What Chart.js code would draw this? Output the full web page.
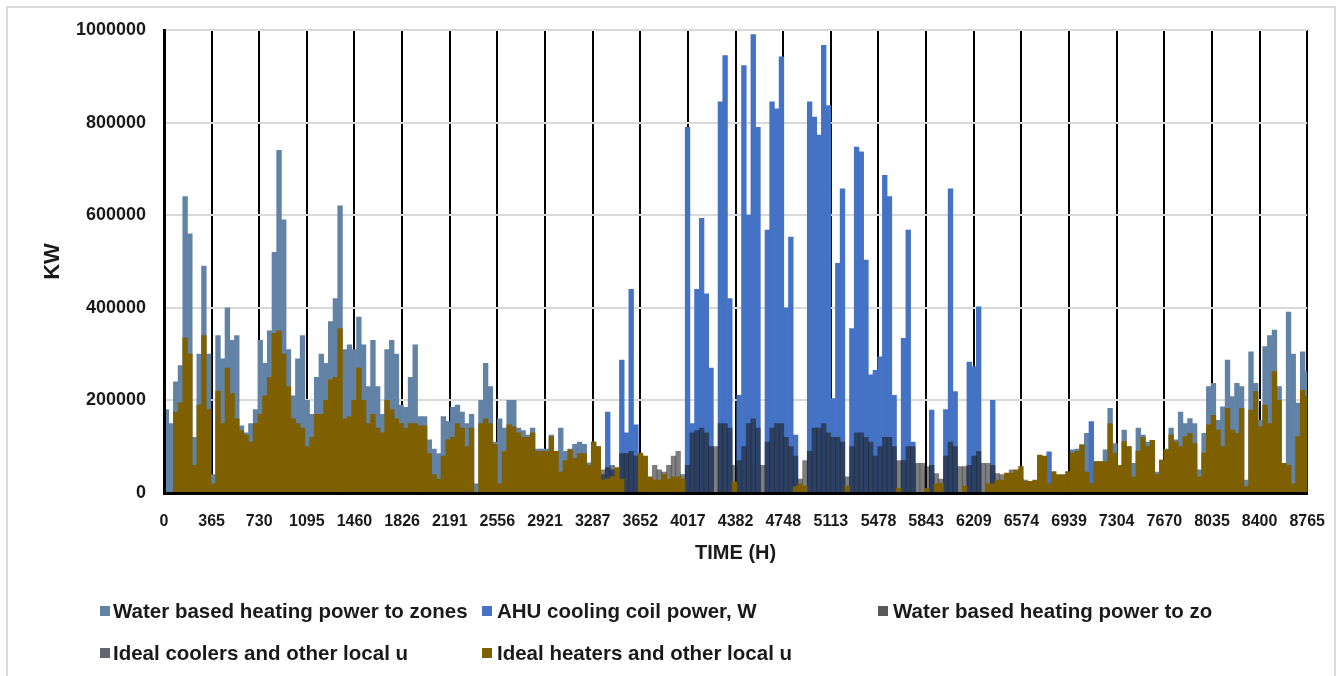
<!DOCTYPE html>
<html>
<head>
<meta charset="utf-8">
<script src="https://cdn.jsdelivr.net/npm/chart.js@4.4.1/dist/chart.umd.min.js"></script>
<style>
  html, body { margin: 0; padding: 0; background: #fff; }
  body { width: 1344px; height: 676px; position: relative; overflow: hidden; }
  #frame { position: absolute; left: 6px; top: 6px; width: 1330px; height: 700px; border: 2px solid #d9d9d9; box-sizing: border-box; }
  #chart { position: absolute; left: 0; top: 0; }
  .legend-item { position: absolute; height: 24px; display: flex; align-items: center; white-space: nowrap;
    font-family: 'Liberation Sans', Arial, sans-serif; font-weight: bold; font-size: 20.5px; color: #1a1a1a; }
  .swatch { position: absolute; width: 10px; height: 10px; }
</style>
</head>
<body>
<div id="frame"></div>
<canvas id="chart" width="1344" height="676"></canvas>
<div id="legend"></div>
<script>
// one bar per 36 hours of the year
const hourStep = 36;
const tickHours = [0, 365, 730, 1095, 1460, 1826, 2191, 2556, 2921, 3287, 3652, 4017, 4382,
  4748, 5113, 5478, 5843, 6209, 6574, 6939, 7304, 7670, 8035, 8400, 8765];

const waterHeatingZones = [
  180000, 150000, 240000, 275000, 640000, 560000, 120000, 300000, 490000, 300000,
  40000, 340000, 290000, 400000, 330000, 340000, 145000, 130000, 150000, 180000,
  330000, 280000, 350000, 520000, 740000, 590000, 310000, 210000, 290000, 340000,
  200000, 170000, 250000, 300000, 280000, 370000, 420000, 620000, 310000, 320000,
  310000, 380000, 320000, 230000, 330000, 230000, 170000, 310000, 330000, 300000,
  190000, 185000, 250000, 320000, 165000, 165000, 115000, 95000, 85000, 165000,
  155000, 185000, 190000, 175000, 150000, 170000, 20000, 200000, 280000, 230000,
  110000, 160000, 140000, 200000, 200000, 140000, 135000, 125000, 140000, 95000,
  95000, 95000, 125000, 90000, 140000, 90000, 95000, 105000, 110000, 105000,
  65000, 110000, 100000, 40000, 0, 0, 0, 0, 0, 0,
  0, 0, 0, 0, 0, 0, 0, 0, 0, 0,
  0, 0, 0, 0, 0, 0, 0, 0, 0, 0,
  0, 0, 0, 0, 0, 0, 0, 0, 0, 0,
  0, 0, 0, 0, 0, 0, 0, 0, 0, 0,
  0, 0, 0, 0, 0, 0, 0, 0, 0, 0,
  0, 0, 0, 0, 0, 0, 0, 0, 0, 0,
  0, 0, 0, 0, 0, 0, 0, 0, 0, 0,
  0, 0, 0, 0, 0, 0, 0, 0, 0, 0,
  0, 0, 0, 0, 0, 0, 0, 0, 0, 0,
  0, 0, 0, 93000, 95000, 104000, 129000, 20000, 68000, 68000,
  93000, 183000, 107000, 60000, 136000, 100000, 64000, 140000, 125000, 110000,
  114000, 45000, 71000, 95000, 140000, 115000, 175000, 150000, 161000, 150000,
  50000, 129000, 230000, 237000, 157000, 186000, 287000, 208000, 237000, 230000,
  28000, 305000, 237000, 157000, 316000, 340000, 352000, 230000, 64000, 391000,
  300000, 194000, 305000, 262000
];

const ahuCoolingCoil = [
  0, 0, 0, 0, 0, 0, 0, 0, 0, 0,
  0, 0, 0, 0, 0, 0, 0, 0, 0, 0,
  0, 0, 0, 0, 0, 0, 0, 0, 0, 0,
  0, 0, 0, 0, 0, 0, 0, 0, 0, 0,
  0, 0, 0, 0, 0, 0, 0, 0, 0, 0,
  0, 0, 0, 0, 0, 0, 0, 0, 0, 0,
  0, 0, 0, 0, 0, 0, 0, 0, 0, 0,
  0, 0, 0, 0, 0, 0, 0, 0, 0, 0,
  0, 0, 0, 0, 0, 0, 0, 0, 0, 0,
  0, 0, 0, 0, 175000, 50000, 0, 287000, 130000, 440000,
  147000, 0, 0, 0, 0, 0, 0, 0, 0, 0,
  0, 790000, 150000, 440000, 593000, 430000, 270000, 0, 845000, 945000,
  420000, 0, 211000, 923000, 600000, 990000, 790000, 0, 568000, 845000,
  830000, 942000, 400000, 553000, 125000, 0, 0, 845000, 812000, 773000,
  967000, 837000, 204000, 496000, 657000, 0, 355000, 747000, 737000, 503000,
  255000, 265000, 294000, 686000, 640000, 211000, 0, 334000, 568000, 110000,
  0, 0, 0, 179000, 0, 0, 180000, 657000, 219000, 0,
  0, 283000, 273000, 402000, 0, 0, 200000, 0, 0, 0,
  0, 0, 0, 0, 0, 0, 0, 60000, 89000, 0,
  0, 0, 0, 0, 0, 0, 0, 154000, 0, 0,
  0, 0, 0, 0, 0, 0, 0, 0, 0, 0,
  0, 0, 0, 0, 0, 0, 0, 0, 0, 0,
  0, 0, 0, 0, 0, 0, 0, 0, 0, 0,
  0, 0, 0, 0, 0, 0, 0, 0, 0, 0,
  0, 0, 0, 0
];

const waterHeatingZo = [
  0, 0, 0, 0, 0, 0, 0, 0, 0, 0,
  0, 0, 0, 0, 0, 0, 0, 0, 0, 0,
  0, 0, 0, 0, 15000, 0, 0, 0, 0, 0,
  0, 0, 0, 0, 0, 0, 0, 0, 0, 0,
  0, 0, 0, 0, 0, 0, 0, 0, 0, 0,
  0, 0, 0, 0, 0, 0, 0, 0, 0, 0,
  0, 0, 0, 0, 0, 0, 0, 0, 0, 0,
  0, 0, 0, 0, 0, 0, 0, 0, 0, 0,
  0, 0, 0, 0, 0, 0, 0, 0, 0, 0,
  0, 0, 0, 0, 0, 0, 0, 0, 0, 0,
  0, 0, 0, 0, 0, 0, 0, 0, 0, 0,
  0, 0, 0, 0, 0, 0, 0, 0, 0, 0,
  0, 0, 0, 0, 0, 0, 0, 0, 0, 0,
  0, 0, 0, 0, 0, 0, 0, 0, 0, 0,
  0, 0, 0, 0, 0, 0, 0, 0, 0, 0,
  0, 0, 0, 0, 0, 0, 0, 0, 0, 0,
  0, 0, 0, 0, 0, 0, 0, 0, 0, 0,
  0, 0, 0, 0, 0, 0, 0, 0, 0, 0,
  0, 0, 0, 0, 0, 0, 0, 0, 0, 0,
  0, 0, 0, 0, 0, 0, 0, 0, 0, 0,
  0, 0, 0, 0, 0, 0, 0, 0, 0, 0,
  0, 0, 0, 0, 0, 0, 0, 0, 0, 0,
  0, 0, 0, 0, 0, 0, 0, 0, 0, 0,
  0, 0, 0, 0, 0, 0, 0, 0, 0, 10000,
  0, 0, 0, 0
];

const idealCoolers = [
  0, 0, 0, 0, 0, 0, 0, 0, 0, 0,
  0, 0, 0, 0, 0, 0, 0, 0, 0, 0,
  0, 0, 0, 0, 0, 0, 0, 0, 0, 0,
  0, 0, 0, 0, 0, 0, 0, 0, 0, 0,
  0, 0, 0, 0, 0, 0, 0, 0, 0, 0,
  0, 0, 0, 0, 0, 0, 0, 0, 0, 0,
  0, 0, 0, 0, 0, 0, 0, 0, 0, 0,
  0, 0, 0, 0, 0, 0, 0, 0, 0, 0,
  0, 0, 0, 0, 0, 0, 0, 0, 0, 0,
  0, 0, 0, 50000, 55000, 60000, 40000, 85000, 85000, 90000,
  80000, 40000, 0, 30000, 60000, 50000, 45000, 60000, 80000, 90000,
  40000, 60000, 130000, 135000, 140000, 130000, 100000, 100000, 150000, 150000,
  140000, 60000, 70000, 100000, 150000, 160000, 140000, 60000, 110000, 140000,
  150000, 150000, 120000, 100000, 80000, 30000, 70000, 90000, 140000, 140000,
  150000, 130000, 120000, 120000, 110000, 35000, 100000, 130000, 130000, 120000,
  110000, 80000, 100000, 120000, 120000, 100000, 70000, 70000, 100000, 100000,
  64000, 64000, 57000, 60000, 42000, 30000, 80000, 110000, 100000, 57000,
  57000, 60000, 80000, 90000, 64000, 64000, 60000, 42000, 40000, 35000,
  50000, 40000, 30000, 28000, 0, 0, 0, 0, 0, 0,
  0, 0, 0, 0, 0, 0, 0, 0, 0, 0,
  0, 0, 0, 0, 0, 0, 0, 0, 0, 0,
  0, 0, 0, 0, 0, 0, 0, 0, 0, 0,
  0, 0, 0, 0, 0, 0, 0, 0, 0, 0,
  0, 0, 0, 0, 0, 0, 0, 0, 0, 0,
  0, 0, 0, 0
];

const idealHeaters = [
  0, 0, 175000, 195000, 335000, 300000, 60000, 190000, 340000, 180000,
  20000, 220000, 150000, 270000, 215000, 160000, 135000, 125000, 110000, 150000,
  170000, 210000, 250000, 345000, 350000, 300000, 230000, 160000, 150000, 140000,
  100000, 120000, 170000, 170000, 200000, 245000, 250000, 355000, 160000, 165000,
  200000, 270000, 200000, 150000, 170000, 140000, 130000, 200000, 180000, 160000,
  150000, 140000, 150000, 150000, 145000, 145000, 85000, 40000, 30000, 80000,
  115000, 120000, 150000, 140000, 100000, 140000, 0, 150000, 160000, 150000,
  105000, 20000, 90000, 147000, 143000, 130000, 120000, 120000, 130000, 90000,
  90000, 90000, 122000, 90000, 45000, 70000, 93000, 75000, 85000, 85000,
  60000, 110000, 100000, 28000, 30000, 35000, 55000, 30000, 0, 0,
  0, 86000, 80000, 35000, 28000, 28000, 40000, 30000, 35000, 35000,
  30000, 0, 0, 0, 0, 0, 0, 0, 0, 0,
  0, 24000, 0, 0, 0, 0, 0, 0, 0, 0,
  0, 0, 0, 0, 14000, 20000, 15000, 0, 0, 0,
  0, 0, 0, 0, 0, 15000, 0, 0, 0, 0,
  0, 0, 0, 0, 0, 0, 10000, 0, 0, 0,
  0, 0, 10000, 0, 20000, 21000, 0, 0, 0, 0,
  15000, 0, 0, 0, 0, 20000, 20000, 28000, 28000, 43000,
  43000, 50000, 57000, 25000, 25000, 28000, 82000, 80000, 20000, 46000,
  40000, 40000, 46000, 86000, 90000, 104000, 45000, 20000, 68000, 68000,
  68000, 150000, 86000, 60000, 111000, 100000, 35000, 90000, 120000, 100000,
  114000, 40000, 71000, 93000, 125000, 111000, 100000, 122000, 129000, 107000,
  35000, 86000, 147000, 168000, 136000, 100000, 183000, 136000, 129000, 183000,
  14000, 179000, 219000, 143000, 190000, 150000, 262000, 200000, 64000, 60000,
  20000, 122000, 222000, 208000
];

const seriesNames = [
  'Water based heating power to zones',
  'AHU cooling coil power, W',
  'Water based heating power to zo',
  'Ideal coolers and other local u',
  'Ideal heaters and other local u'
];
const seriesValues = [waterHeatingZones, ahuCoolingCoil, waterHeatingZo, idealCoolers, idealHeaters];
const seriesColors = ['#6282a6', '#4472c4', '#595959', 'rgba(25, 25, 25, 0.56)', '#7f6000'];
const legendColors = ['#6282a6', '#4472c4', '#595959', '#60656f', '#7f6000'];
// legend spots: [swatch left, text left, row centre]
const legendSpots = [[100, 113, 611], [482, 497, 611], [878, 893, 611], [100, 113, 653], [482, 497, 653]];

const toPoints = (values) => values.map((v, i) => ({ x: i * hourStep + hourStep / 2, y: v }));

const datasets = seriesNames.map((name, i) => ({
  label: name,
  data: toPoints(seriesValues[i]),
  backgroundColor: seriesColors[i],
  borderWidth: 0,
  grouped: false,
  barPercentage: 1,
  categoryPercentage: 1,
  order: seriesNames.length - i
}));

const legend = document.getElementById('legend');
seriesNames.forEach((name, i) => {
  const [sx, tx, cy] = legendSpots[i];
  const sw = document.createElement('div');
  sw.className = 'swatch';
  sw.style.left = sx + 'px';
  sw.style.top = (cy - 5) + 'px';
  sw.style.background = legendColors[i];
  legend.appendChild(sw);
  const item = document.createElement('div');
  item.className = 'legend-item';
  item.style.left = tx + 'px';
  item.style.top = (cy - 12) + 'px';
  item.textContent = name;
  legend.appendChild(item);
});

const axisText = '#1a1a1a';

new Chart(document.getElementById('chart'), {
  type: 'bar',
  data: { datasets: datasets },
  options: {
    responsive: false,
    animation: false,
    devicePixelRatio: 1,
    layout: { padding: { top: 30, right: 35, bottom: 111, left: 0 } },
    plugins: {
      legend: { display: false },
      tooltip: { enabled: false }
    },
    scales: {
      x: {
        type: 'linear',
        min: 0,
        max: 8765,
        offset: false,
        afterBuildTicks: (scale) => { scale.ticks = tickHours.map((v) => ({ value: v })); },
        afterFit: (scale) => { scale.height = 72; },
        ticks: {
          autoSkip: false,
          maxRotation: 0,
          padding: 19,
          color: axisText,
          font: { family: "'Liberation Sans', Arial", size: 16, weight: 'bold' },
          callback: (v) => String(v)
        },
        grid: { color: '#000', lineWidth: 2, drawTicks: false, offset: false },
        border: { color: '#000', width: 3, z: 1 },
        title: {
          display: true,
          text: 'TIME (H)',
          color: axisText,
          padding: { top: 0, bottom: 0 },
          font: { family: "'Liberation Sans', Arial", size: 20, weight: 'bold' }
        }
      },
      y: {
        min: 0,
        max: 1000000,
        afterFit: (scale) => { scale.width = 164; },
        ticks: {
          stepSize: 200000,
          padding: 18,
          color: axisText,
          font: { family: "'Liberation Sans', Arial", size: 18, weight: 'bold' },
          callback: (v) => String(v)
        },
        grid: { color: '#d9d9d9', lineWidth: 2, drawTicks: false },
        border: { color: '#000', width: 3, z: 1 },
        title: {
          display: true,
          text: 'KW',
          color: axisText,
          padding: { top: 40, bottom: 0 },
          font: { family: "'Liberation Sans', Arial", size: 22, weight: 'bold' }
        }
      }
    }
  }
});
</script>
</body>
</html>
